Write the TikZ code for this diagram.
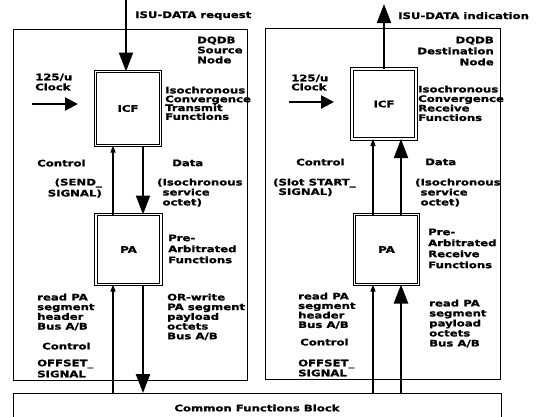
\documentclass[tikz,border=0pt]{standalone}
\usepackage{fontspec}
\newfontfamily\lblfont{DejaVu Sans}[FakeStretch=1.3,BoldFeatures={FakeBold=1.2}]
\usetikzlibrary{arrows.meta, positioning}
\tikzset{
  % Outer frame of a DQDB node
  Frm/.style={rectangle,draw=black,line width=0.8pt,inner sep=0pt,
              outer sep=0pt,anchor=north west},
  % Function block, double border
  FB/.style={rectangle,draw=black,double=white,double distance=1.3pt,
             line width=1.1pt,inner sep=0pt,outer sep=0pt,
             font=\lblfont\bfseries\fontsize{9}{10}\selectfont},
  % Text label
  Lb/.style={font=\lblfont\bfseries\fontsize{9}{#1}\selectfont,
             align=left,inner sep=0pt,anchor=north west},
  Lb/.default=10,
  % Arrows
  Big/.style={-{Triangle[length=19pt,width=14pt]},line width=2pt},
  Clk/.style={-{Triangle[length=13pt,width=13pt]},line width=2.2pt},
  Ctl/.style={-{Triangle[length=7pt,width=5pt]},line width=1.2pt},
}
\begin{document}
\begin{tikzpicture}[x=1pt,y=-1pt]
\useasboundingbox (0,0) rectangle (542,416);
\clip (0,0) rectangle (542,416);
% -- frames ------------------------------
\node[Frm,minimum width=234,minimum height=351] (src) at (13,29) {};
\node[Frm,minimum width=235,minimum height=351] (dst) at (265,28) {};
\node[Frm,minimum width=488,minimum height=30,anchor=north,
      font=\lblfont\bfseries\fontsize{9}{10}\selectfont]
      (cfb) at (257,393) {Common Functions Block};
% -- function blocks ---------------------
\node[FB,minimum width=65,minimum height=74] (licf) at (128,108.5) {ICF};
\node[FB,minimum width=65,minimum height=70] (lpa)  at (128.5,249.5) {PA};
\node[FB,minimum width=64,minimum height=70] (ricf) at (384,104) {ICF};
\node[FB,minimum width=64,minimum height=70] (rpa)  at (386.5,249.5) {PA};
% -- helper coordinates ------------------
\coordinate (reqtop) at (126,0);
\coordinate (indtop) at (384,4);
\coordinate (lclka) at (32,104);  \coordinate (lclkb) at (78,104);
\coordinate (rclka) at (289,102); \coordinate (rclkb) at (334,102);
\coordinate (lc) at (113,0); \coordinate (ld) at (143,0);
\coordinate (rc) at (373,0); \coordinate (rd) at (401,0);
% -- source side arrows ------------------
\draw[Big] (reqtop) -- (reqtop |- licf.north);
\draw[Clk] (lclka) -- (lclkb);
\draw[Ctl] (lc |- lpa.north) -- (lc |- licf.south);
\draw[Big] (ld |- licf.south) -- (ld |- lpa.north);
\draw[Ctl] (lc |- cfb.north) -- (lc |- lpa.south);
\draw[Big,line width=2.6pt] (ld |- lpa.south) -- (ld |- cfb.north);
% -- destination side arrows -------------
\draw[Big] (ricf.north) -- (indtop);
\draw[Clk] (rclka) -- (rclkb);
\draw[Ctl] (rc |- rpa.north) -- (rc |- ricf.south);
\draw[Big] (rd |- rpa.north) -- (rd |- ricf.south);
\draw[Ctl] (rc |- cfb.north) -- (rc |- rpa.south);
\draw[Big,line width=2.6pt] (rd |- cfb.north) -- (rd |- rpa.south);
% -- source side labels ------------------
\node[Lb,anchor=base west] (lreq) at (135,18) {ISU-DATA request};
\node[Lb] (srcname) at (197,36.4) {DQDB\\Source\\Node};
\node[Lb] (lclklbl) at (35,73.4) {125/u\\Clock};
\node[Lb=8.8] (licfd) at (165,86.4) {Isochronous\\Convergence\\Transmit\\Functions};
\node[Lb] (lctl) at (37,159.4) {Control};
\node[Lb=11,align=right,anchor=north east] (lsend) at (102,178.4) {(SEND\_\\SIGNAL)};
\node[Lb] (ldata) at (172,159.4) {Data};
\node[Lb] (ldatad) at (157,178.4) {(Isochronous\\\phantom{(}service\\\phantom{(}octet)};
\node[Lb=11] (lpad) at (168,234.4) {Pre-\\Arbitrated\\Functions};
\node[Lb=9.7] (lhdr) at (37,293.4) {read PA\\segment\\header\\Bus A/B};
\node[Lb] (lctl2) at (42,342.4) {Control};
\node[Lb=11] (loff) at (37,359.4) {OFFSET\_\\SIGNAL};
\node[Lb=9.7] (lpay) at (167,293.4) {OR-write\\PA segment\\payload\\octets\\Bus A/B};
% -- destination side labels -------------
\node[Lb,anchor=base west] (rind) at (398,19) {ISU-DATA indication};
\node[Lb=11,align=right,anchor=north east] (dstname) at (494,36.4) {DQDB\\Destination\\Node};
\node[Lb=9] (rclklbl) at (291,74.4) {125/u\\Clock};
\node[Lb=9.5] (ricfd) at (418,85.4) {Isochronous\\Convergence\\Receive\\Functions};
\node[Lb] (rctl) at (296,158.4) {Control};
\node[Lb=9.5] (rslot) at (273,178.4) {(Slot START\_\\\phantom{(}SIGNAL)};
\node[Lb] (rdata) at (425,158.4) {Data};
\node[Lb] (rdatad) at (415,178.4) {(Isochronous\\\phantom{(}service\\\phantom{(}octet)};
\node[Lb=11] (rpad) at (428,228.4) {Pre-\\Arbitrated\\Receive\\Functions};
\node[Lb=9.5] (rhdr) at (298,292.4) {read PA\\segment\\header\\Bus A/B};
\node[Lb] (rctl2) at (300,338.4) {Control};
\node[Lb=10] (roff) at (298,359.4) {OFFSET\_\\SIGNAL};
\node[Lb=10] (rpay) at (429,299.4) {read PA\\segment\\payload\\octets\\Bus A/B};
\end{tikzpicture}
\end{document}
